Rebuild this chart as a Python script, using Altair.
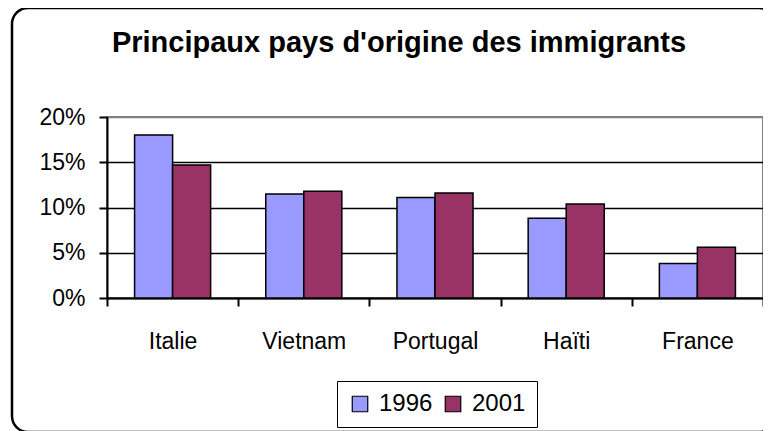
import altair as alt
import pandas as pd

countries = ["Italie", "Vietnam", "Portugal", "Haïti", "France"]
years = ["1996", "2001"]
values_1996 = [0.180, 0.115, 0.111, 0.088, 0.038]
values_2001 = [0.147, 0.118, 0.116, 0.104, 0.056]
y_ticks = [0, 0.05, 0.10, 0.15, 0.20]
colors = ["#9999FF", "#993366"]

rows = []
for c, a, b in zip(countries, values_1996, values_2001):
    rows.append({"pays": c, "annee": years[0], "part": a})
    rows.append({"pays": c, "annee": years[1], "part": b})
df = pd.DataFrame(rows)

FONT = "Liberation Sans"

bars = alt.Chart(df).mark_bar(stroke="black", strokeWidth=1.5).encode(
    x=alt.X(
        "pays:N",
        sort=countries,
        scale=alt.Scale(paddingInner=0, paddingOuter=0),
        axis=alt.Axis(
            title=None,
            labelAngle=0,
            tickBand="extent",
            domainColor="black",
            domainWidth=2,
            tickColor="black",
            tickWidth=2,
            tickSize=8,
            labelFontSize=23,
            labelPadding=24,
            labelColor="black",
            labelFont=FONT,
        ),
    ),
    xOffset=alt.XOffset(
        "annee:N", scale=alt.Scale(paddingInner=0, paddingOuter=0.725)
    ),
    y=alt.Y(
        "part:Q",
        scale=alt.Scale(domain=[0, 0.2], nice=False),
        axis=alt.Axis(
            title=None,
            values=y_ticks,
            format=".0%",
            grid=True,
            gridColor={"condition": {"test": "datum.value >= 0.2", "value": "#808080"}, "value": "black"},
            gridWidth=1.5,
            domainColor="black",
            domainWidth=2,
            tickColor="black",
            tickWidth=2,
            tickSize=8,
            labelFontSize=23,
            labelPadding=14,
            labelColor="black",
            labelFont=FONT,
        ),
    ),
    color=alt.Color(
        "annee:N",
        scale=alt.Scale(domain=years, range=colors),
        legend=alt.Legend(
            title=None,
            orient="none",
            legendX=230,
            legendY=264,
            direction="horizontal",
            strokeColor="black",
            padding=11,
            symbolType="square",
            symbolSize=240,
            symbolStrokeColor="black",
            symbolStrokeWidth=1.2,
            labelFontSize=24,
            labelFont=FONT,
            labelColor="black",
            columnPadding=8,
            labelOffset=7,
        ),
    ),
)

frame = alt.Chart(pd.DataFrame({"k": [0]})).mark_rect(
    fillOpacity=0, stroke="black", strokeWidth=2.5, cornerRadius=16
).encode(
    x=alt.value(-95), x2=alt.value(668), y=alt.value(-109), y2=alt.value(315)
)

chart = alt.layer(frame, bars).properties(
    width=656,
    height=181,
    autosize=alt.AutoSizeParams(type="none"),
    padding={"left": 99, "top": 109, "right": 0, "bottom": 134},
    title=alt.TitleParams(
        "Principaux pays d'origine des immigrants",
        font=FONT,
        fontSize=29,
        fontWeight="bold",
        color="black",
        anchor="middle",
        baseline="alphabetic",
        dx=-36,
        offset=-74,
    ),
).configure_view(stroke="#808080", strokeWidth=2)

chart.save("out.html", embed_options={"renderer": "svg", "actions": False})
